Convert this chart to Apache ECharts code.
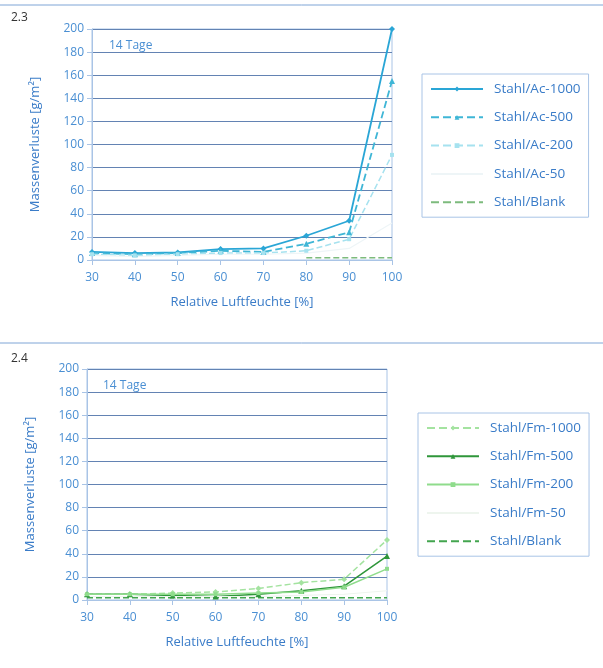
<!DOCTYPE html>
<html>
<head>
<meta charset="utf-8">
<script src="https://cdn.jsdelivr.net/npm/echarts@6/dist/echarts.min.js"></script>
<style>
  html, body { margin: 0; padding: 0; background: #fff; }
  #chart { width: 603px; height: 668px; }
</style>
</head>
<body>
<div id="chart"></div>
<script>
// relative humidity (%) on the x axis
const humidity = [30, 40, 50, 60, 70, 80, 90, 100]

// chart 2.3 - Stahl/Ac
const ac1000 = [7, 6, 6.5, 9.5, 10, 21, 34, 200]
const ac500 = [6, 5, 6, 8, 7, 14, 24, 155]
const ac200 = [5, 4, 5, 6, 6, 8, 18, 91]
const ac50 = [4, 3, 4, 5, 5, 6, 10, 32]
const blankAc = [null, null, null, null, null, 2, 2, 2]

// chart 2.4 - Stahl/Fm
const fm1000 = [5, 5, 6, 7, 10, 15, 18, 52]
const fm500 = [5, 5, 4, 3, 5, 8, 12, 38]
const fm200 = [5, 5, 5, 5, 6, 7, 11, 27]
const fm50 = [3, 3, 3, 3, 3, 4, 5, 8]
const blankFm = [2, 2, 2, 2, 2, 2, 2, 2]

const labelColor = '#4a8fd3'
const titleColor = '#3a7cc8'
const gridColor = '#6383b3'
const boxColor = '#a9c4e6'

function pairs(vals) {
  return humidity.map((h, i) => [h, vals[i]])
}

function line(name, vals, idx, color, type, symbol, width) {
  return {
    name: name,
    type: 'line',
    xAxisIndex: idx,
    yAxisIndex: idx,
    data: pairs(vals),
    symbol: symbol,
    symbolSize: symbol === 'none' ? 0 : (symbol === 'rect' ? 4 : 6),
    showSymbol: symbol !== 'none',
    connectNulls: false,
    itemStyle: { color: color },
    lineStyle: { color: color, type: type, width: width || 1.5 },
    z: 3
  }
}

function xAxis(idx) {
  return {
    type: 'value',
    gridIndex: idx,
    min: 30,
    max: 100,
    interval: 10,
    name: 'Relative Luftfeuchte [%]',
    nameLocation: 'middle',
    nameGap: 36,
    nameTextStyle: { color: titleColor, fontSize: 13, fontFamily: 'Open Sans' },
    axisLine: { show: true, lineStyle: { color: boxColor } },
    axisTick: { show: true, lineStyle: { color: boxColor } },
    axisLabel: { color: labelColor, fontSize: 12, margin: 12, fontFamily: 'Open Sans' },
    splitLine: { show: false }
  }
}

function yAxis(idx) {
  return {
    type: 'value',
    gridIndex: idx,
    min: 0,
    max: 200,
    interval: 20,
    name: 'Massenverluste [g/m²]',
    nameLocation: 'middle',
    nameGap: 50,
    nameTextStyle: { color: titleColor, fontSize: 13, fontFamily: 'Open Sans' },
    axisLine: { show: true, lineStyle: { color: boxColor } },
    axisTick: { show: true, lineStyle: { color: boxColor } },
    axisLabel: { color: labelColor, fontSize: 12, margin: 8, fontFamily: 'Open Sans' },
    splitLine: { show: true, lineStyle: { color: gridColor, width: 1 } }
  }
}

// items without markers get a hidden symbol in the legend
function legend(names, plain, left, top) {
  return {
    data: names.map(n => plain.indexOf(n) >= 0 ? { name: n, itemStyle: { opacity: 0 } } : { name: n }),
    orient: 'vertical',
    left: left,
    top: top,
    width: 176,
    itemWidth: 52,
    itemHeight: 6,
    itemGap: 14.3,
    padding: [8, 8, 8, 8],
    borderColor: boxColor,
    borderWidth: 1,
    selectedMode: false,
    textStyle: { color: titleColor, fontSize: 13.5, fontFamily: 'Open Sans', padding: [0, 0, 0, 6] }
  }
}

const chart = echarts.init(document.getElementById('chart'))

const option = {
  animation: false,
  backgroundColor: '#fff',
  title: [
    { text: '2.3', left: 6, top: 7, textStyle: { color: '#333', fontSize: 12, fontWeight: 'normal', fontFamily: 'Open Sans' } },
    { text: '14 Tage', left: 104, top: 35, textStyle: { color: labelColor, fontSize: 12, fontWeight: 'normal', fontFamily: 'Open Sans' } },
    { text: '2.4', left: 6, top: 348, textStyle: { color: '#333', fontSize: 12, fontWeight: 'normal', fontFamily: 'Open Sans' } },
    { text: '14 Tage', left: 98, top: 375, textStyle: { color: labelColor, fontSize: 12, fontWeight: 'normal', fontFamily: 'Open Sans' } }
  ],
  graphic: [
    { type: 'line', shape: { x1: 0, y1: 5, x2: 603, y2: 5 }, style: { stroke: '#7fa5d6', lineWidth: 1 } },
    { type: 'line', shape: { x1: 0, y1: 343, x2: 603, y2: 343 }, style: { stroke: '#7fa5d6', lineWidth: 1 } }
  ],
  grid: [
    { left: 92, top: 29, width: 300, height: 231, show: true, borderColor: boxColor, borderWidth: 1 },
    { left: 87, top: 369, width: 300, height: 231, show: true, borderColor: boxColor, borderWidth: 1 }
  ],
  legend: [
    legend(['Stahl/Ac-1000', 'Stahl/Ac-500', 'Stahl/Ac-200', 'Stahl/Ac-50', 'Stahl/Blank'], ['Stahl/Ac-50', 'Stahl/Blank'], 422, 74),
    legend(['Stahl/Fm-1000', 'Stahl/Fm-500', 'Stahl/Fm-200', 'Stahl/Fm-50', 'Stahl/Blank '], ['Stahl/Fm-50', 'Stahl/Blank '], 418, 413)
  ],
  xAxis: [xAxis(0), xAxis(1)],
  yAxis: [yAxis(0), yAxis(1)],
  series: [
    line('Stahl/Ac-1000', ac1000, 0, '#2aa6d6', 'solid', 'diamond', 1.8),
    line('Stahl/Ac-500', ac500, 0, '#3fb6d6', 'dashed', 'triangle', 1.8),
    line('Stahl/Ac-200', ac200, 0, '#a6e2ef', 'dashed', 'rect', 1.5),
    line('Stahl/Ac-50', ac50, 0, '#eef5f7', 'solid', 'none', 1.2),
    line('Stahl/Blank', blankAc, 0, '#7dbb7d', 'dashed', 'none', 1.5),
    line('Stahl/Fm-1000', fm1000, 1, '#a4e3a0', 'dashed', 'diamond', 1.5),
    line('Stahl/Fm-500', fm500, 1, '#2f963a', 'solid', 'triangle', 1.5),
    line('Stahl/Fm-200', fm200, 1, '#8fdc8c', 'solid', 'rect', 1.5),
    line('Stahl/Fm-50', fm50, 1, '#eef5ee', 'solid', 'none', 1.2),
    line('Stahl/Blank ', blankFm, 1, '#43a54f', 'dashed', 'none', 1.5)
  ]
}

chart.setOption(option)
</script>
</body>
</html>
